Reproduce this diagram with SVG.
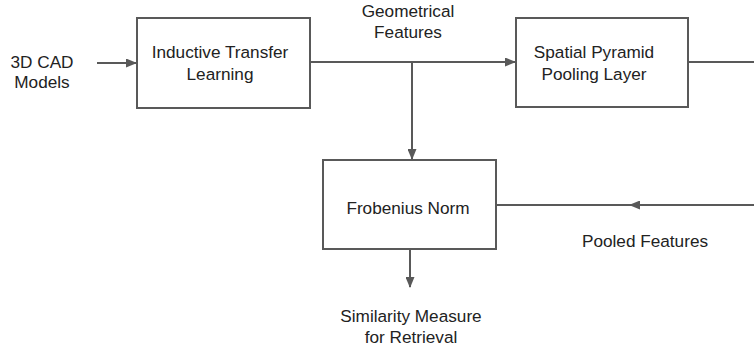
<svg xmlns="http://www.w3.org/2000/svg" width="754" height="350" viewBox="0 0 754 350">
<style>
.box{fill:#fff;stroke:#595959;stroke-width:2}
.ln{fill:none;stroke:#595959;stroke-width:2}
text{font-family:"Liberation Sans",Arial,sans-serif;font-size:17.2px;fill:#222;text-anchor:middle}
</style>
<defs>
<marker id="ah" markerWidth="11" markerHeight="9" refX="10" refY="4.5" orient="auto" markerUnits="userSpaceOnUse">
<path d="M0,0 L11,4.5 L0,9 Z" fill="#595959"/>
</marker>
</defs>
<rect width="754" height="350" fill="#fff"/>
<g id="connectors">
<line class="ln" x1="97" y1="63" x2="136" y2="63" marker-end="url(#ah)"/>
<line class="ln" x1="310" y1="62" x2="515" y2="62" marker-end="url(#ah)"/>
<line class="ln" x1="412" y1="62" x2="412" y2="159" marker-end="url(#ah)"/>
<line class="ln" x1="688" y1="62" x2="754" y2="62"/>
<line class="ln" x1="754" y1="205" x2="630" y2="205" marker-end="url(#ah)"/>
<line class="ln" x1="635" y1="205" x2="496" y2="205"/>
<line class="ln" x1="410" y1="249" x2="410" y2="287" marker-end="url(#ah)"/>
</g>
<g id="input"><text x="42" y="68">3D CAD</text><text x="42" y="88">Models</text></g>
<g id="itl"><rect class="box" x="137" y="18" width="173" height="90"/><text x="220" y="58">Inductive Transfer</text><text x="220" y="80">Learning</text></g>
<g id="geo"><text x="408" y="17">Geometrical</text><text x="408" y="38">Features</text></g>
<g id="spp"><rect class="box" x="516" y="18" width="172" height="89"/><text x="594" y="58">Spatial Pyramid</text><text x="594" y="80">Pooling Layer</text></g>
<g id="frob"><rect class="box" x="323" y="160" width="173" height="89"/><text x="408" y="214">Frobenius Norm</text></g>
<g id="pooled"><text x="645" y="247">Pooled Features</text></g>
<g id="sim"><text x="411" y="322">Similarity Measure</text><text x="411" y="343">for Retrieval</text></g>
</svg>
